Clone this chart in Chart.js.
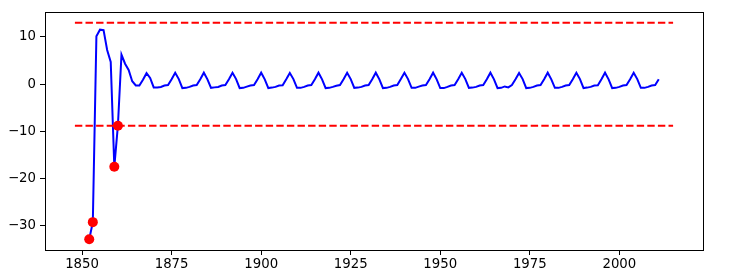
<!DOCTYPE html>
<html>
<head>
<meta charset="utf-8">
<script src="https://cdn.jsdelivr.net/npm/chart.js@4/dist/chart.umd.min.js"></script>
<style>
  html, body { margin: 0; padding: 0; background: #fff; }
  #myChart { display: block; }
</style>
</head>
<body>
<canvas id="myChart" width="744" height="280"></canvas>
<script>
let years = [];
for (let y = 1852; y <= 2011; y++) years.push(y);

let values = [
  -32.8, -29.2, 10.1, 11.5, 11.4, 7.2, 4.7, -17.5,          // 1852-1859
  -8.8, 6.2, 4.3, 3.0, 0.6, -0.3, -0.3, 0.9,                // 1860-1867
  2.3, 1.3, -0.7, -0.7, -0.6, -0.3, -0.2, 1.0,              // 1868-1875
  2.4, 1.05, -0.85, -0.8, -0.6, -0.3, -0.2, 1.0,            // 1876-1883
  2.4, 1.0, -0.8, -0.7, -0.6, -0.3, -0.2, 1.0,              // 1884-1891
  2.4, 1.05, -0.85, -0.8, -0.55, -0.3, -0.2, 1.0,           // 1892-1899
  2.4, 1.0, -0.85, -0.75, -0.6, -0.3, -0.25, 1.0,           // 1900-1907
  2.35, 1.05, -0.8, -0.8, -0.6, -0.3, -0.2, 1.0,            // 1908-1915
  2.4, 1.0, -0.85, -0.8, -0.6, -0.35, -0.2, 1.0,            // 1916-1923
  2.4, 1.05, -0.8, -0.75, -0.6, -0.3, -0.2, 1.0,            // 1924-1931
  2.4, 1.0, -0.85, -0.8, -0.6, -0.3, -0.2, 1.05,            // 1932-1939
  2.4, 1.05, -0.8, -0.8, -0.55, -0.3, -0.2, 1.0,            // 1940-1947
  2.4, 1.0, -0.85, -0.85, -0.6, -0.3, -0.2, 1.0,            // 1948-1955
  2.4, 1.05, -0.8, -0.75, -0.6, -0.3, -0.2, 1.0,            // 1956-1963
  2.4, 1.0, -0.85, -0.8, -0.5, -0.7, -0.2, 1.0,             // 1964-1971
  2.35, 1.05, -0.85, -0.8, -0.6, -0.3, -0.2, 1.0,           // 1972-1979
  2.4, 1.0, -0.8, -0.8, -0.6, -0.3, -0.2, 1.0,              // 1980-1987
  2.4, 1.05, -0.85, -0.75, -0.6, -0.3, -0.25, 1.0,          // 1988-1995
  2.4, 1.0, -0.85, -0.8, -0.6, -0.3, -0.2, 1.0,             // 1996-2003
  2.4, 1.05, -0.8, -0.8, -0.6, -0.3, -0.2, 1.0              // 2004-2011
];

let anomalyYears = [1852, 1853, 1859, 1860];
let anomalyValues = [-32.8, -29.2, -17.5, -8.8];

let limitLevels = [12.95, -8.8];
let limitSpan = [1848, 2015];

let xTicks = [1850, 1875, 1900, 1925, 1950, 1975, 2000];
let yTicks = [-30, -20, -10, 0, 10];

const font = { family: 'DejaVu Sans', size: 13.3 };

const framePlugin = {
  id: 'frame',
  afterDraw(chart) {
    const a = chart.chartArea, ctx = chart.ctx;
    ctx.save();
    ctx.strokeStyle = '#000';
    ctx.lineWidth = 1;
    ctx.strokeRect(Math.round(a.left) + 0.5, Math.round(a.top) + 0.5,
                   Math.round(a.right - a.left), Math.round(a.bottom - a.top));
    ctx.restore();
  }
};

function createChart() {
  const ctx = document.getElementById('myChart').getContext('2d');
  const limitSets = limitLevels.map(v => ({
    data: limitSpan.map(x => ({ x: x, y: v })),
    borderColor: '#ff0000',
    borderWidth: 2,
    borderDash: [7.4, 3.2],
    pointRadius: 0,
    fill: false,
    order: 1
  }));
  new Chart(ctx, {
    type: 'line',
    data: {
      datasets: [{
        data: years.map((yr, i) => ({ x: yr, y: values[i] })),
        borderColor: '#0000ff',
        borderWidth: 2,
        pointRadius: 0,
        tension: 0,
        fill: false,
        order: 2
      },
      ...limitSets,
      {
        data: anomalyYears.map((yr, i) => ({ x: yr, y: anomalyValues[i] })),
        showLine: false,
        pointRadius: 5,
        pointBackgroundColor: '#ff0000',
        pointBorderColor: '#ff0000',
        pointBorderWidth: 0,
        order: 0
      }]
    },
    options: {
      responsive: false,
      animation: false,
      devicePixelRatio: 1,
      layout: { padding: { top: 12, right: 41, left: 0, bottom: 0 } },
      plugins: { legend: { display: false }, tooltip: { enabled: false } },
      scales: {
        x: {
          type: 'linear',
          min: 1839.65,
          max: 2023.35,
          afterBuildTicks: s => { s.ticks = xTicks.map(v => ({ value: v })); },
          afterFit: s => { s.height = 30; },
          ticks: { font: font, color: '#000', padding: 2, maxRotation: 0, callback: v => String(v) },
          grid: { drawOnChartArea: false, drawTicks: true, tickLength: 5, tickColor: '#000' },
          border: { display: true, color: '#000', width: 1 }
        },
        y: {
          min: -35.09,
          max: 15.24,
          afterBuildTicks: s => { s.ticks = yTicks.map(v => ({ value: v })); },
          afterFit: s => { s.width = 45; },
          ticks: { font: font, color: '#000', padding: 4, callback: v => String(v).replace('-', '\u2212') },
          grid: { drawOnChartArea: false, drawTicks: true, tickLength: 5, tickColor: '#000' },
          border: { display: true, color: '#000', width: 1 }
        }
      }
    },
    plugins: [framePlugin]
  });
}

window.onload = createChart;
</script>
</body>
</html>
